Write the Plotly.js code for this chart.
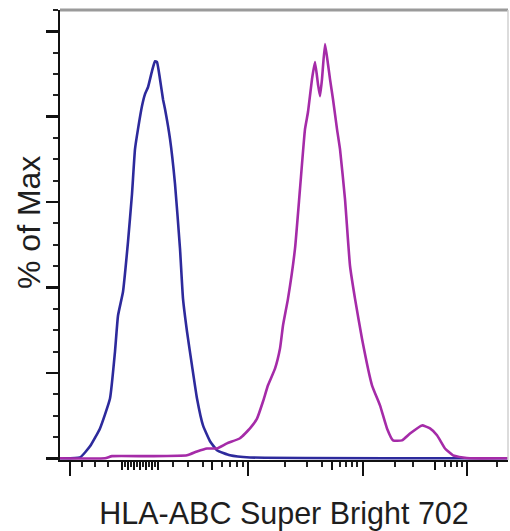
<!DOCTYPE html>
<html>
<head>
<meta charset="utf-8">
<script src="https://cdn.plot.ly/plotly-3.0.1.min.js"></script>
<style>html,body{margin:0;padding:0;background:#fff;}#chart{width:510px;height:531px;}</style>
</head>
<body>
<div id="chart"></div>
<script>
// Display channel (biexponential display scale, 60..508) and % of Max
const isoChannel = [60,80,90,100,110,115,118,123,128,132,135,138,142,145,148,152,155,157,160,163,165,170,175,180,183,187,192,197,203,210,217,230,250,508];
const isoPct     = [0,0.2,2.8,7.0,14.0,25.0,33.4,39.0,50.7,61.9,72.4,77.1,82.5,85.3,86.9,90.7,93.0,92.8,88.8,84.1,81.8,74.8,64.3,49.1,37.4,29.7,21.7,14.0,7.7,4.0,1.9,0.7,0.2,0];

const hlaChannel = [60,105,112,150,187,197,207,217,227,240,250,257,263,268,275,280,283,288,295,300,305,308,312,315,318,320,322,325,328,330,333,337,340,345,350,355,362,372,380,387,393,402,410,422,430,437,445,453,463,470,508];
const hlaPct     = [0,0,0.5,0.5,0.7,1.6,2.3,2.3,3.5,4.7,7.0,9.3,13.3,17.1,21.0,25.7,31.1,37.4,49.1,63.1,77.1,81.1,88.8,92.8,87.6,84.8,88.8,97.0,92.3,88.8,84.1,77.1,72.4,60.7,45.1,37.4,28.0,17.1,12.4,7.0,4.2,4.2,5.8,7.7,7.0,5.4,2.3,0.7,0.2,0,0];

// Axis tick positions on the display channel scale
const xMajorTicks  = [70,248,363,467];
const xMediumTicks = [122,128,134,140,146,152,158,212,332,435];
const xMinorTicks  = [82,95,108,125,131,137,143,149,155,173,188,203,222,230,237,243,285,307,322,340,346,352,357,395,413,445,451,457,462,497];
const yMajorTicks  = [0,20,40,60,80,100];

const xTitle = 'HLA-ABC Super Bright 702';
const yTitle = '% of Max';

const xRange = [60,508];
const yRange = [-0.4,105];

const traces = [
  {x: isoChannel, y: isoPct, type:'scatter', mode:'lines', line:{color:'#2d2a9c', width:2.6, shape:'spline', smoothing:0.4}, hoverinfo:'skip', showlegend:false},
  {x: hlaChannel, y: hlaPct, type:'scatter', mode:'lines', line:{color:'#a52ba8', width:2.6, shape:'spline', smoothing:0.4}, hoverinfo:'skip', showlegend:false},
  {x: [xRange[0]], y:[0], xaxis:'x2', yaxis:'y', type:'scatter', mode:'markers', marker:{opacity:0}, hoverinfo:'skip', showlegend:false}
];

const layout = {
  width:510, height:531,
  margin:{l:60, r:2, t:10, b:71},
  paper_bgcolor:'#fff', plot_bgcolor:'#fff',
  font:{family:'Liberation Sans, Arial, sans-serif', color:'#222'},
  xaxis:{
    range:xRange, showgrid:false, zeroline:false, showline:true, linecolor:'#111', linewidth:2,
    tickmode:'array', tickvals:xMajorTicks, ticks:'outside', ticklen:14, tickwidth:2.5, tickcolor:'#111',
    showticklabels:false,
    minor:{tickmode:'array', tickvals:xMinorTicks, ticks:'outside', ticklen:5, tickwidth:2, tickcolor:'#222', showgrid:false},
    title:{text:xTitle, font:{size:30.5, color:'#1e1e1e'}, standoff:31},
    automargin:false
  },
  xaxis2:{
    range:xRange, overlaying:'x', anchor:'y', side:'bottom', showgrid:false, zeroline:false, showline:false,
    tickmode:'array', tickvals:xMediumTicks, ticks:'outside', ticklen:9, tickwidth:2.5, tickcolor:'#111',
    showticklabels:false
  },
  yaxis:{
    range:yRange, showgrid:false, zeroline:false, showline:true, linecolor:'#111', linewidth:2,
    tickmode:'array', tickvals:yMajorTicks, ticks:'outside', ticklen:12, tickwidth:2.5, tickcolor:'#111',
    showticklabels:false,
    minor:{dtick:5, tick0:0, ticks:'outside', ticklen:5, tickwidth:2, tickcolor:'#222', showgrid:false},
    automargin:false
  },
  annotations:[
    {text:yTitle, xref:'paper', yref:'paper', x:(29-60)/448, y:(460-223)/450, xanchor:'center', yanchor:'middle',
     textangle:-90, showarrow:false, font:{size:32, color:'#1e1e1e'}}
  ],
  shapes:[
    {type:'line', xref:'paper', yref:'paper', x0:0, x1:1, y0:1, y1:1, line:{color:'#9a9a9a', width:3}},
    {type:'line', xref:'paper', yref:'paper', x0:1, x1:1, y0:0, y1:1, line:{color:'#d0d0d0', width:1.5}}
  ]
};

Plotly.newPlot('chart', traces, layout, {displayModeBar:false, staticPlot:true});
</script>
</body>
</html>
